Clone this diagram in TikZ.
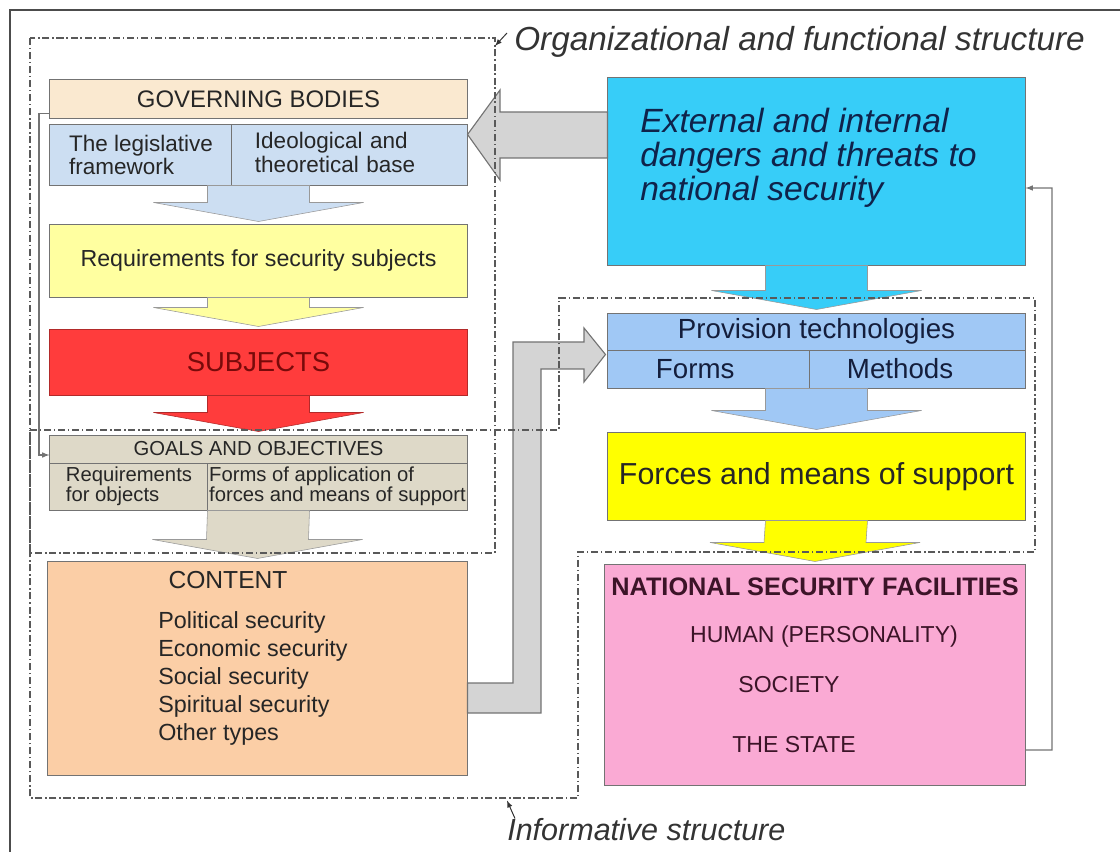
\documentclass[tikz,border=0pt]{standalone}
\usepackage{fontspec}
\setmainfont{Liberation Sans}
\usepackage{xcolor}
\usepackage{tikz}
\usetikzlibrary{arrows, calc}
\definecolor{govpeach}{RGB}{250, 233, 208}
\definecolor{legblue}{RGB}{204, 222, 242}
\definecolor{reqyellow}{RGB}{255, 255, 160}
\definecolor{subjred}{RGB}{255, 60, 60}
\definecolor{subjtext}{RGB}{120, 10, 10}
\definecolor{goalbeige}{RGB}{222, 217, 200}
\definecolor{contpeach}{RGB}{251, 206, 166}
\definecolor{dangcyan}{RGB}{55, 205, 248}
\definecolor{dangtext}{RGB}{15, 35, 75}
\definecolor{provblue}{RGB}{160, 200, 245}
\definecolor{provtext}{RGB}{20, 30, 60}
\definecolor{forceyellow}{RGB}{255, 255, 0}
\definecolor{facilpink}{RGB}{250, 170, 212}
\definecolor{faciltext}{RGB}{60, 20, 40}
\definecolor{pipegray}{RGB}{212, 212, 212}

% block arrow from a box bottom to the next box top
\newcommand{\blockdown}[3]{%
  \filldraw[#1] ($#2+(-51,0)$) -- ($#3+(-51,-22)$) -- ($#3+(-105,-22)$)
    -- ($#3+(0,-3)$) -- ($#3+(105,-22)$) -- ($#3+(51,-22)$) -- ($#2+(51,0)$) -- cycle;}

\begin{document}
\begin{tikzpicture}[x=0.025cm, y=-0.025cm,
  box/.style={draw=black!55, line width=0.7pt, inner sep=2pt, text=black!85},
  wide/.style={minimum width=10.425cm},
  fbline/.style={draw=black!55, line width=0.8pt, -latex},
  structline/.style={draw=black!65, line width=0.8pt, dash pattern=on 5pt off 2pt on 1pt off 2pt},
  pipe/.style={fill=pipegray, draw=black!55, line width=0.8pt},
  notearrow/.style={-latex, line width=0.7pt, black!80}]
\useasboundingbox (0,0) rectangle (1120,852);

% Frame
\draw[black!70, line width=1pt] (10,852) -- (10,10) -- (1120,10);

% Left column
\node[box, wide, fill=govpeach, minimum height=0.95cm, font=\fontsize{17}{19}\selectfont] (gov) at (258.5,99) {GOVERNING BODIES};
\node[box, fill=legblue, minimum width=4.55cm, minimum height=1.5cm, align=left, font=\fontsize{16}{17}\selectfont] (legisL) at (141,155) {The legislative\\framework};
\node[box, fill=legblue, minimum width=5.875cm, minimum height=1.5cm, inner sep=0pt, text width=4.725cm, align=left, font=\fontsize{16}{17}\selectfont] (legisR) at (349.5,155) {Ideological and\\theoretical base\vspace{4pt}};
\node[box, wide, fill=reqyellow, minimum height=1.8cm, font=\fontsize{16.5}{19}\selectfont] (req) at (258.5,261) {Requirements for security subjects};
\node[box, wide, fill=subjred, draw=subjred!70!black, minimum height=1.625cm, text=subjtext, font=\fontsize{19.5}{22}\selectfont] (subj) at (258.5,362.5) {SUBJECTS};
\node[box, wide, fill=goalbeige, minimum height=0.7cm, font=\fontsize{14.4}{16}\selectfont] (goalsH) at (258.5,449) {GOALS AND OBJECTIVES};
\node[box, fill=goalbeige, minimum width=3.95cm, minimum height=1.175cm, align=left, font=\fontsize{14.4}{14}\selectfont] (goalsL) at (129,486.5) {Requirements\\for objects};
\node[box, fill=goalbeige, minimum width=6.475cm, minimum height=1.175cm, align=left, inner sep=0pt, font=\fontsize{14.4}{14}\selectfont] (goalsR) at (337.5,486.5) {Forms of application of\\forces and means of support};
\node[box, fill=contpeach, minimum width=10.475cm, minimum height=5.325cm] (content) at (257.5,668.5) {};
\node[text=black!85, font=\fontsize{17.5}{20}\selectfont] (contitle) at (228,580) {CONTENT};
\node[anchor=north west, align=left, inner sep=0pt, text=black!85, font=\fontsize{16.6}{20}\selectfont] (conlist) at (158,611) {Political security\\Economic security\\Social security\\Spiritual security\\Other types};

% Right column
\node[box, fill=dangcyan, wide, minimum height=4.675cm] (dangers) at (816.5,171.5) {};
\node[anchor=west, align=left, inner sep=0pt, text=dangtext, font=\itshape\fontsize{23.9}{24.2}\selectfont] (dangtxt) at (640,158) {External and internal\\dangers and threats to\\national security};
\node[box, wide, fill=provblue, minimum height=0.925cm, text=provtext, font=\fontsize{19.7}{22}\selectfont] (provH) at (816.5,331.5) {Provision technologies};
\node[box, fill=provblue, minimum width=5.05cm, minimum height=0.95cm, inner sep=0pt, text width=2.65cm, align=left, text=provtext, font=\fontsize{19.7}{22}\selectfont] (provF) at (709,369) {Forms};
\node[box, fill=provblue, minimum width=5.375cm, minimum height=0.95cm, inner sep=0pt, text width=3.525cm, align=left, text=provtext, font=\fontsize{19.7}{22}\selectfont] (provM) at (917.5,369) {Methods};
\node[box, wide, fill=forceyellow, minimum height=2.175cm, font=\fontsize{21.6}{24}\selectfont] (forces) at (816.5,476.5) {Forces and means of support};
\node[box, fill=facilpink, minimum width=10.5cm, minimum height=5.5cm] (facil) at (815,675) {};
\node[text=faciltext, font=\bfseries\fontsize{18}{20}\selectfont] (faciltitle) at (815,587) {NATIONAL SECURITY FACILITIES};
\node[text=faciltext, font=\fontsize{16.4}{18}\selectfont] (human) at (824,637) {HUMAN (PERSONALITY)};
\node[text=faciltext, font=\fontsize{16.4}{18}\selectfont] (society) at (789,685) {SOCIETY};
\node[text=faciltext, font=\fontsize{16.4}{18}\selectfont] (state) at (794,745) {THE STATE};

% Block arrows
\blockdown{fill=legblue, draw=black!40}{($(legisL.south west)!.5!(legisR.south east)$)}{(req.north)}
\blockdown{fill=reqyellow, draw=black!40}{(req.south)}{(subj.north)}
\blockdown{fill=subjred, draw=subjred!70!black}{(subj.south)}{(goalsH.north)}
\blockdown{fill=goalbeige, draw=black!40}{($(goalsL.south west)!.5!(goalsR.south east)$)}{(content.north)}
\blockdown{fill=dangcyan, draw=black!40}{(dangers.south)}{(provH.north)}
\blockdown{fill=provblue, draw=black!40}{($(provF.south west)!.5!(provM.south east)$)}{(forces.north)}
\blockdown{fill=forceyellow, draw=black!40}{(forces.south)}{(facil.north)}

% Threats into governing bodies
\filldraw[pipe] (dangers.west |- 0,112) -- (500,112) -- (500,90) -- ($(legisR.north east)+(0,10)$)
  -- (500,180) -- (500,158) -- (dangers.west |- 0,158) -- cycle;

% Content into provision technologies
\filldraw[pipe] (content.east |- 0,683) -- (513,683) -- (513,342) -- (584,342) -- (584,328)
  -- ($(provF.north west)+(-2,5)$) -- (584,382) -- (584,369) -- (541,369) -- (541,713)
  -- (content.east |- 0,713) -- cycle;

% Feedback lines
\draw[fbline] ($(gov.south west)+(0,-5)$) -| (39,455) -- ($(goalsH.west)+(0,6)$);
\draw[fbline] ($(facil.east)+(0,75)$) -| (1052,188) -- ($(dangers.east)+(0,16.5)$);

% Structures
\draw[structline] (30,38) rectangle (495,553);
\draw[structline] (30,430) -- (559,430) -- (559,298) -- (1035,298) -- (1035,552)
  -- (578,552) -- (578,798) -- (30,798) -- cycle;

\node[anchor=west, inner sep=0pt, text=black!80, font=\itshape\fontsize{23.7}{26}\selectfont] (orglbl) at (514,42) {Organizational and functional structure};
\node[anchor=west, inner sep=0pt, text=black!80, font=\itshape\fontsize{21.7}{24}\selectfont] (infolbl) at (507,830) {Informative structure};
\draw[notearrow] ($(orglbl.west)+(-7,-9)$) -- ++(-12,13);
\draw[notearrow] ($(infolbl.north west)+(8,0)$) -- ++(-8,-18);
\end{tikzpicture}
\end{document}
